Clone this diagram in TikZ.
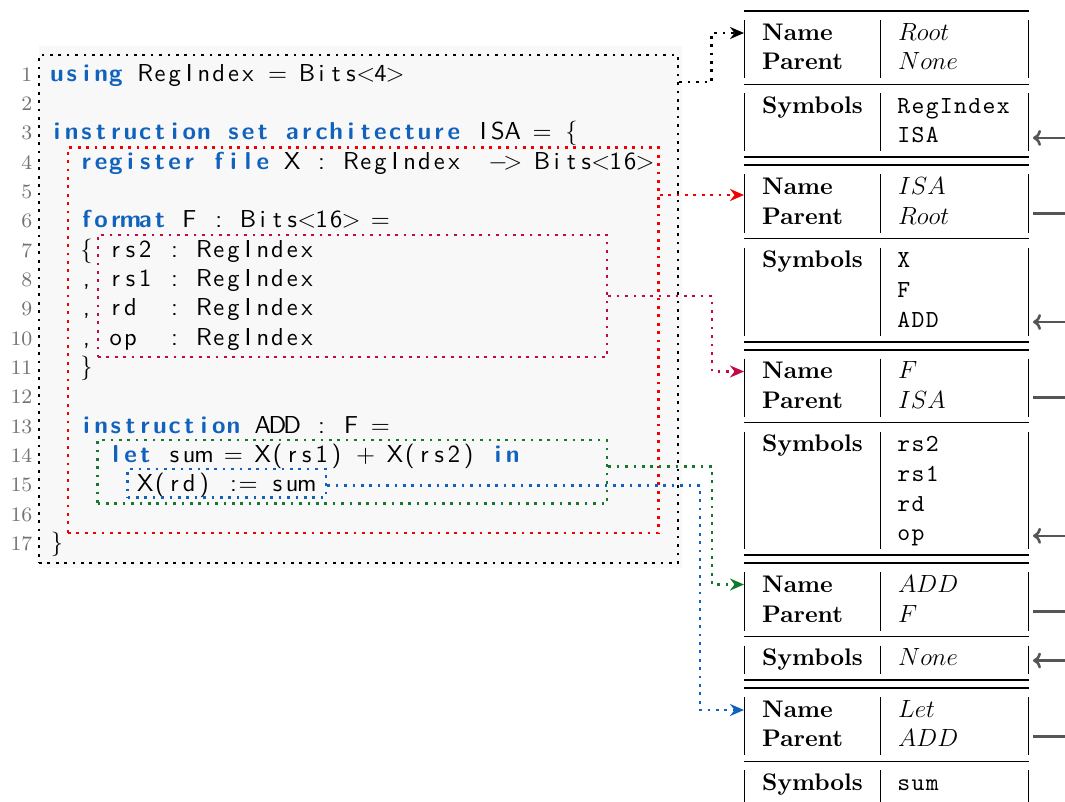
\documentclass[tikz,border=0pt]{standalone}
\usepackage{fontspec}
\usetikzlibrary{arrows.meta}

% Latin Modern at its 10pt (and 8pt) design sizes, scaled up
\newfontfamily\codefont{lmsans10-regular.otf}[BoldFont=lmsans10-bold.otf]
\newfontfamily\tabfont{lmroman10-regular.otf}[BoldFont=lmroman10-bold.otf]
\newfontfamily\lnofont{lmroman8-regular.otf}
\newfontfamily\symfont{lmmono10-regular.otf}

\definecolor{kw}{RGB}{16,98,188}
\definecolor{codebg}{RGB}{248,248,248}
\definecolor{lnogray}{RGB}{115,115,115}
\definecolor{boxred}{RGB}{240,0,0}
\definecolor{boxcrimson}{RGB}{190,10,75}
\definecolor{boxgreen}{RGB}{20,120,45}
\definecolor{boxblue}{RGB}{16,98,188}
\definecolor{linkgray}{RGB}{85,85,85}

% fixed-column typesetting: every character sits centred in a box of width \colw
\newlength\colw
\setlength\colw{14.7pt}
\def\fcstopmark{\fcstop}
\def\fcloop#1{\def\fcarg{#1}\ifx\fcarg\fcstopmark\else\hbox to\colw{\hss#1\hss}\expandafter\fcloop\fi}
\newcommand\cc[1]{\fcloop#1\fcstop}
\newcommand\ck[1]{{\bfseries\color{kw}\fcloop#1\fcstop}}
\newcommand\cm[1]{{\setlength\colw{14.2pt}\fcloop#1\fcstop}}

\tikzset{
  codeline/.style={anchor=base west, inner sep=0pt, font=\codefont\fontsize{24.5}{29}\selectfont},
  lno/.style={anchor=base east, inner sep=0pt, text=lnogray, font=\lnofont\fontsize{20.5}{22}\selectfont},
  dotbox/.style={draw=#1, line width=2.7pt, dash pattern=on 2.7pt off 5.7pt, inner sep=0pt},
  link/.style={draw=#1, line width=2.7pt, dash pattern=on 2.7pt off 5.7pt, -{Stealth[length=14pt,width=12pt]}},
  hd/.style={anchor=base west, inner sep=0pt, font=\tabfont\fontsize{24}{29}\selectfont\bfseries},
  val/.style={anchor=base west, inner sep=0pt, font=\tabfont\fontsize{24}{29}\selectfont},
  sym/.style={anchor=base west, inner sep=0pt, font=\symfont\fontsize{24.5}{29}\selectfont},
  thickrule/.style={line width=2pt},
  thinrule/.style={line width=1.3pt},
  colrule/.style={line width=1.1pt},
  parentlink/.style={draw=linkgray, line width=2.6pt, -{To[length=8pt,width=16pt]}}
}

\begin{document}
\begin{tikzpicture}[x=1pt,y=-1pt]
\useasboundingbox (0,0) rectangle (1065,801);
\clip (0,0) rectangle (1065,801);

% listing background
\fill[codebg] (39,46) rectangle (682,568);

% line numbers
\foreach \n in {1,...,17}
  \node[lno] (n\n) at (32.5,{81+(\n-1)*29.35}) {\n};

% source lines
\node[codeline] (l1)  at (49.5,81.00)  {\ck{using}\cc{~RegIndex~=~Bits{$<$}4{$>$}}};
\node[codeline] (l3)  at (49.5,139.70) {\ck{instruction~set~architecture}\cc{~ISA~=~\{}};
\node[codeline] (l4)  at (49.5,169.05) {\cc{~~}\ck{register~file}\cc{~X~:~RegIndex~~{$-$}{$>$}~Bits{$<$}16{$>$}}};
\node[codeline] (l6)  at (49.5,227.75) {\cc{~~}\ck{format}\cc{~F~:~Bits{$<$}16{$>$}~=}};
\node[codeline] (l7)  at (49.5,257.10) {\cc{~~\{~rs2~:~RegIndex}};
\node[codeline] (l8)  at (49.5,286.45) {\cc{~~,~rs1~:~RegIndex}};
\node[codeline] (l9)  at (49.5,315.80) {\cc{~~,~rd~~:~RegIndex}};
\node[codeline] (l10) at (49.5,345.15) {\cc{~~,~op~~:~RegIndex}};
\node[codeline] (l11) at (49.5,374.50) {\cc{~~\}}};
\node[codeline] (l13) at (49.5,433.20) {\cc{~~}\ck{instruction}\cc{~ADD~:~F~=}};
\node[codeline] (l14) at (49.5,462.55) {\cc{~~~~}\ck{let}\cc{~sum~=~X(rs1)~+~X(rs2)~}\ck{in}};
\node[codeline] (l15) at (49.5,491.90) {\cc{~~~~~~X(rd)~:=~sum}};
\node[codeline] (l17) at (49.5,550.60) {\cc{\}}};

% scope frames
\node[dotbox=black,      minimum width=639pt,   minimum height=508pt]   (rootscope) at (358.5,309)    {};
\node[dotbox=boxred,     minimum width=590.5pt, minimum height=385.5pt] (isascope)  at (363.25,340.25) {};
\node[dotbox=boxcrimson, minimum width=509pt,   minimum height=122pt]   (fscope)    at (352.5,296)    {};
\node[dotbox=boxgreen,   minimum width=509.5pt, minimum height=63.5pt]  (addscope)  at (352.25,471.75) {};
\node[dotbox=boxblue,    minimum width=198.5pt, minimum height=28.5pt]  (letscope)  at (226.75,483.25) {};

% symbol tables: rules
\foreach \y in {11,157.4,165.4,341.5,349.5,555.3,563.3,680,688}
  \draw[thickrule] (744,\y) -- (1029,\y);
\foreach \y in {84.2,238.6,422.7,636.5,761.2}
  \draw[thinrule] (744,\y) -- (1029,\y);
\foreach \a/\b in {20/78.2,93.2/151.4,174.4/232.6,247.6/335.5,358.5/416.7,431.7/549.3,572.3/630.5,645.5/674,697/755.2,770.2/806}
  \foreach \x in {744.5,880.5,1028.5}
    \draw[colrule] (\x,\a) -- (\x,\b);

% table: Root
\node[hd]  (t1n)  at (762,40.0)   {Name};
\node[hd]  (t1p)  at (762,69.7)   {Parent};
\node[val] (t1nv) at (898,40.0)   {$Root$};
\node[val] (t1pv) at (898,69.7)   {$None$};
\node[hd]  (t1s)  at (762,113.2)  {Symbols};
\node[sym] (t1a)  at (896.5,113.2) {\cm{RegIndex}};
\node[sym] (t1b)  at (896.5,142.9) {\cm{ISA}};

% table: ISA
\node[hd]  (t2n)  at (762,194.4)  {Name};
\node[hd]  (t2p)  at (762,224.1)  {Parent};
\node[val] (t2nv) at (898,194.4)  {$ISA$};
\node[val] (t2pv) at (898,224.1)  {$Root$};
\node[hd]  (t2s)  at (762,267.6)  {Symbols};
\node[sym] (t2a)  at (896.5,267.6) {\cm{X}};
\node[sym] (t2b)  at (896.5,297.3) {\cm{F}};
\node[sym] (t2c)  at (896.5,327.0) {\cm{ADD}};

% table: F
\node[hd]  (t3n)  at (762,378.5)  {Name};
\node[hd]  (t3p)  at (762,408.2)  {Parent};
\node[val] (t3nv) at (898,378.5)  {$F$};
\node[val] (t3pv) at (898,408.2)  {$ISA$};
\node[hd]  (t3s)  at (762,451.7)  {Symbols};
\node[sym] (t3a)  at (896.5,451.7) {\cm{rs2}};
\node[sym] (t3b)  at (896.5,481.4) {\cm{rs1}};
\node[sym] (t3c)  at (896.5,511.1) {\cm{rd}};
\node[sym] (t3d)  at (896.5,540.8) {\cm{op}};

% table: ADD
\node[hd]  (t4n)  at (762,592.3)  {Name};
\node[hd]  (t4p)  at (762,622.0)  {Parent};
\node[val] (t4nv) at (898,592.3)  {$ADD$};
\node[val] (t4pv) at (898,622.0)  {$F$};
\node[hd]  (t4s)  at (762,665.5)  {Symbols};
\node[val] (t4a)  at (898,665.5)  {$None$};

% table: Let
\node[hd]  (t5n)  at (762,717.0)  {Name};
\node[hd]  (t5p)  at (762,746.7)  {Parent};
\node[val] (t5nv) at (898,717.0)  {$Let$};
\node[val] (t5pv) at (898,746.7)  {$ADD$};
\node[hd]  (t5s)  at (762,790.2)  {Symbols};
\node[sym] (t5a)  at (896.5,790.2) {\cm{sum}};

% scope -> table links
\coordinate (in1) at (744,33);
\coordinate (in2) at (744,195);
\coordinate (in3) at (744,371.5);
\coordinate (in4) at (744,584.5);
\coordinate (in5) at (744,710);
\coordinate (j1) at (711.5,82);
\coordinate (j3) at (712,296);
\coordinate (j4) at (712,466.5);
\coordinate (j5) at (700,485.5);
\draw[link=black]      (rootscope.east |- j1) -- (j1) |- (in1);
\draw[link=boxred]     (isascope.east |- in2) -- (in2);
\draw[link=boxcrimson] (fscope.east) -- (j3) |- (in3);
\draw[link=boxgreen]   (addscope.east |- j4) -- (j4) |- (in4);
\draw[link=boxblue]    (letscope.east |- j5) -- (j5) |- (in5);

% parent pointers
\coordinate (s1) at (1033,137.9);
\coordinate (s2) at (1033,322.0);
\coordinate (s3) at (1033,535.8);
\coordinate (s4) at (1033,660.5);
\coordinate (p2) at (1033,213.6);
\coordinate (p3) at (1033,397.7);
\coordinate (p4) at (1033,611.5);
\coordinate (p5) at (1033,736.2);
\draw[parentlink] (p2) -- ++(57,0) |- (s1);
\draw[parentlink] (p3) -- ++(57,0) |- (s2);
\draw[parentlink] (p4) -- ++(57,0) |- (s3);
\draw[parentlink] (p5) -- ++(57,0) |- (s4);
\end{tikzpicture}
\end{document}
